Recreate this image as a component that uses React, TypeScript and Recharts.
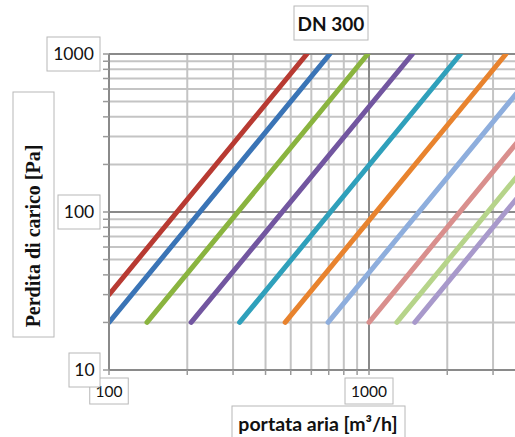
import { CartesianGrid, Customized, Line, LineChart, ReferenceLine, XAxis, YAxis } from 'recharts'

// log-log pressure drop chart, lines are straight (dP ~ Q^2)
const flowTicks = [100, 200, 300, 400, 500, 600, 700, 800, 900, 1000, 2000, 3000, 4000, 5000, 6000, 7000, 8000, 9000, 10000]
const lossTicks = [10, 20, 30, 40, 50, 60, 70, 80, 90, 100, 200, 300, 400, 500, 600, 700, 800, 900, 1000]
const flowLabels = [100, 1000]
const lossLabels = [10, 100, 1000]

const startFlow = [100, 100, 140, 207, 318, 476, 696, 1000, 1280, 1500]
const startLoss = [30, 20, 20, 20, 20, 20, 20, 20, 20, 20]
const endFlow = [577, 707, 990, 1470, 2250, 3365, 4920, 7070, 9050, 10600]
const endLoss = [1000, 1000, 1000, 1000, 1000, 1000, 1000, 1000, 1000, 1000]
const colors = ['#b83a32', '#3a74b6', '#8ab43f', '#7256a0', '#2fa0bb', '#e8832e', '#8eaedd', '#d98f8d', '#b6d48a', '#a899cb']

const series = startFlow.map((q, i) => [
  { q, p: startLoss[i] },
  { q: endFlow[i], p: endLoss[i] },
])

const PLOT_LEFT = 109
const PLOT_BOTTOM = 370
const boxStroke = '#b8b8b8'

function YTick({ y, payload }: any) {
  const v = payload.value
  if (!lossLabels.includes(v)) return <g />
  const label = String(v)
  const w = label.length * 11 + 9
  const right = PLOT_LEFT - 9
  return (
    <g>
      <rect x={right - w} y={y - 17} width={w} height={34} fill="#fff" stroke={boxStroke} />
      <text x={right - w / 2} y={y + 6} textAnchor="middle" fontFamily="Lato" fontSize={17.5} fill="#111">
        {label}
      </text>
    </g>
  )
}

function XTick({ x, payload }: any) {
  const v = payload.value
  if (!flowLabels.includes(v)) return <g />
  const label = String(v)
  const w = label.length * 9.5 + 10
  return (
    <g>
      <rect x={x - w / 2} y={PLOT_BOTTOM + 8} width={w} height={26} fill="#fff" stroke={boxStroke} />
      <text x={x} y={PLOT_BOTTOM + 27} textAnchor="middle" fontFamily="Lato" fontSize={15.5} fill="#111">
        {label}
      </text>
    </g>
  )
}

function Labels() {
  return (
    <g>
      <rect x={294} y={6} width={74} height={34} fill="#fff" stroke={boxStroke} />
      <text x={331} y={31} textAnchor="middle" fontFamily="Lato" fontWeight="bold" fontSize={19} fill="#111">
        DN 300
      </text>
      <rect x={13} y={92} width={41} height={245} fill="#fff" stroke={boxStroke} />
      <text
        x={33}
        y={236}
        transform="rotate(-90 33 236)"
        textAnchor="middle"
        dominantBaseline="central"
        fontFamily="Liberation Serif"
        fontWeight="bold"
        fontSize={20}
        fill="#111"
      >
        Perdita di carico [Pa]
      </text>
      <rect x={232} y={406} width={173} height={40} fill="#fff" stroke={boxStroke} />
      <text x={318} y={431} textAnchor="middle" fontFamily="Lato" fontWeight="bold" fontSize={19.5} fill="#111">
        portata aria [m³/h]
      </text>
    </g>
  )
}

export default function App() {
  return (
    <div style={{ position: 'absolute', left: 0, top: 0, width: 515, height: 437, overflow: 'hidden', background: '#fff' }}>
      <LineChart width={640} height={437} margin={{ top: 54, right: 11, bottom: 27, left: 49 }}>
        <CartesianGrid stroke="#c4c4c4" strokeWidth={2} />
        <XAxis
          dataKey="q"
          type="number"
          scale="log"
          domain={[100, 10000]}
          ticks={flowTicks}
          interval={0}
          allowDataOverflow
          height={40}
          tickSize={5}
          axisLine={{ stroke: '#8a8a8a', strokeWidth: 2 }}
          tickLine={{ stroke: '#9a9a9a', strokeWidth: 1.5 }}
          tick={<XTick />}
        />
        <YAxis
          type="number"
          scale="log"
          domain={[10, 1000]}
          ticks={lossTicks}
          interval={0}
          allowDataOverflow
          width={60}
          tickSize={6}
          axisLine={{ stroke: '#8a8a8a', strokeWidth: 2 }}
          tickLine={{ stroke: '#9a9a9a', strokeWidth: 1.5 }}
          tick={<YTick />}
        />
        <ReferenceLine y={100} stroke="#8a8a8a" strokeWidth={2} />
        <ReferenceLine y={1000} stroke="#8a8a8a" strokeWidth={2} />
        <ReferenceLine x={1000} stroke="#8a8a8a" strokeWidth={2} />
        {series.map((d, i) => (
          <Line
            key={i}
            data={d}
            dataKey="p"
            type="linear"
            stroke={colors[i]}
            strokeWidth={5}
            strokeLinecap="round"
            dot={false}
            activeDot={false}
            isAnimationActive={false}
          />
        ))}
        <Customized component={Labels} />
      </LineChart>
    </div>
  )
}
